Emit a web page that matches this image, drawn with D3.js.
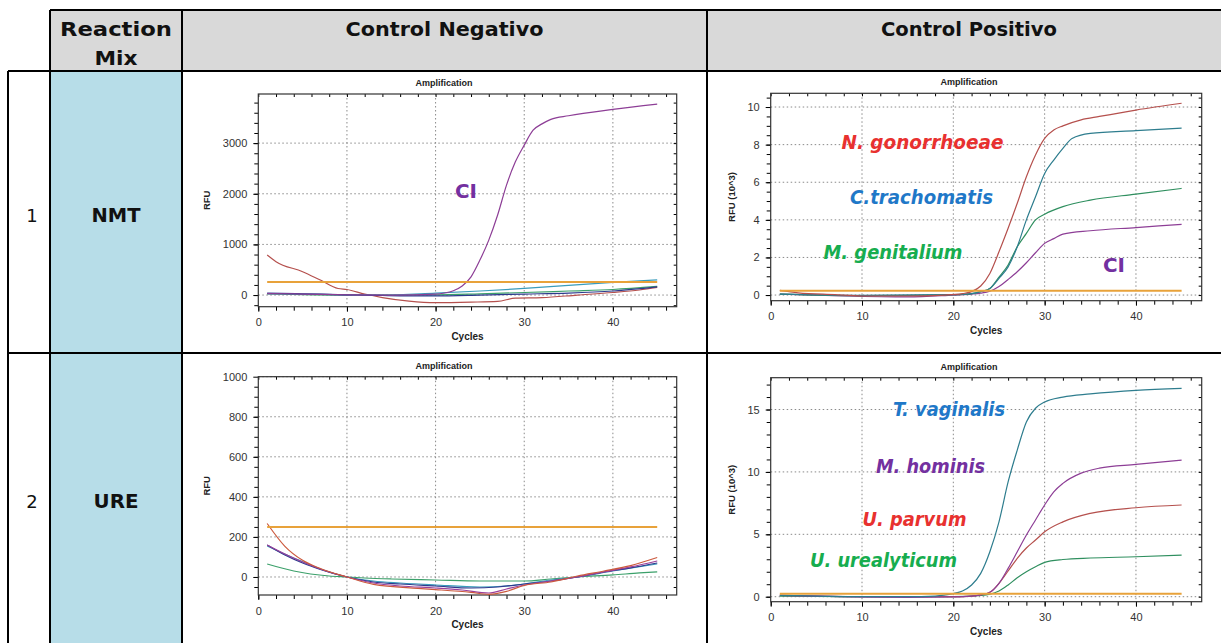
<!DOCTYPE html>
<html>
<head>
<meta charset="utf-8">
<script src="https://cdn.jsdelivr.net/npm/d3@7"></script>
<style>
  body { margin: 0; background: #fff; }
  svg { display: block; }
  .big { font-family: "DejaVu Sans", sans-serif; font-weight: bold; fill: #111; }
  .tick text { font-family: "Liberation Sans", Arial, sans-serif; font-size: 11px; fill: #333; }
  .small { font-family: "Liberation Sans", Arial, sans-serif; font-weight: bold; fill: #222; }
  .species { font-family: "DejaVu Sans", sans-serif; font-weight: bold; font-style: italic; }
</style>
</head>
<body>
<div id="chart"></div>
<script>
// ---- data ----
const headerCols = ["Control Negativo", "Control Positivo"];
const rowNumbers = ["1", "2"];
const mixNames = ["NMT", "URE"];

const cycleTicks = [0, 10, 20, 30, 40];
const cycleDomain = [0, 47.2];
const thresholdRange = [1, 45];

// row 1, negative control (RFU)
const nmtNegYTicks = [0, 1000, 2000, 3000];
const nmtNegThreshold = 256;
const nmtNegCI = [[1,30],[5,20],[10,5],[15,0],[20,20],[21,40],[22,85],[23,180],[24,360],[25,690],[26,1085],[27,1580],[28,2170],[29,2630],[30,2960],[31,3255],[32,3380],[33,3470],[35,3540],[40,3665],[45,3770]];
const nmtNegRed = [[1,790],[2,660],[5,460],[7,296],[9,130],[10,110],[12,20],[14,-50],[17,-120],[20,-150],[24,-140],[27,-125],[29,-60],[32,-50],[36,0],[40,50],[43,100],[45,150]];
const nmtNegNavy = [[1,40],[5,25],[10,5],[13,-5],[16,-15],[20,-15],[25,0],[30,20],[35,40],[40,80],[45,160]];
const nmtNegTeal = [[1,30],[5,20],[10,5],[14,0],[20,40],[25,80],[30,130],[35,190],[40,250],[45,300]];
const nmtNegGreen = [[1,25],[10,0],[20,5],[25,25],[30,50],[35,80],[40,110],[45,170]];

// row 1, positive control (RFU x 10^3)
const nmtPosYTicks = [0, 2, 4, 6, 8, 10];
const nmtPosThreshold = 0.23;
const nmtPosNG = [[1,0.25],[3,0.12],[7,0.02],[10,-0.05],[15,-0.05],[19,0],[21,0.08],[22,0.18],[23,0.48],[24,1.15],[25,2.3],[26,3.55],[27,4.88],[28,6.29],[29,7.45],[30,8.33],[31,8.78],[32,9.0],[34,9.32],[36,9.5],[40,9.84],[45,10.2]];
const nmtPosCT = [[1,0.05],[10,-0.02],[20,0.02],[22,0.08],[23,0.18],[24,0.35],[25,0.89],[26,1.5],[27,2.57],[28,4.0],[29,5.23],[30,6.47],[31,7.18],[32,7.8],[33,8.33],[35,8.6],[40,8.74],[45,8.88]];
const nmtPosMG = [[1,0.05],[10,-0.03],[20,0.02],[22,0.08],[23,0.18],[24,0.35],[25,0.95],[26,1.6],[27,2.57],[28,3.28],[29,4.0],[30,4.3],[32,4.7],[35,5.05],[40,5.37],[45,5.67]];
const nmtPosCI = [[1,0.05],[8,-0.05],[15,-0.1],[20,0],[22,0.05],[23,0.1],[24,0.2],[25,0.45],[26,0.83],[27,1.24],[28,1.72],[29,2.25],[30,2.75],[31,3.0],[32,3.24],[35,3.42],[40,3.59],[45,3.76]];

// row 2, negative control (RFU)
const ureNegYTicks = [0, 200, 400, 600, 800, 1000];
const ureNegThreshold = 250;
const ureNegRed = [[1,267],[3,153],[5,83],[7,42],[10,0],[13,-37],[18,-57],[20,-63],[24,-77],[26,-87],[28,-72],[30,-42],[33,-25],[36,5],[39,30],[42,57],[45,97]];
const ureNegPurple = [[1,160],[3,115],[5,75],[7,40],[10,0],[13,-30],[16,-45],[20,-55],[23,-65],[26,-80],[28,-60],[30,-40],[33,-20],[36,0],[39,25],[42,50],[45,80]];
const ureNegNavy = [[1,160],[3,110],[5,70],[7,38],[10,0],[13,-25],[16,-35],[20,-45],[24,-55],[27,-50],[30,-35],[33,-20],[36,0],[39,25],[42,45],[45,70]];
const ureNegTeal = [[1,155],[4,95],[7,40],[10,0],[13,-20],[16,-30],[20,-40],[25,-50],[28,-45],[30,-35],[33,-15],[36,0],[40,30],[45,65]];
const ureNegGreen = [[1,65],[4,30],[8,5],[10,0],[12,-5],[15,-10],[20,-15],[25,-20],[30,-20],[33,-10],[36,0],[40,10],[43,20],[45,25]];

// row 2, positive control (RFU x 10^3)
const urePosYTicks = [0, 5, 10, 15];
const urePosThreshold = 0.24;
const urePosTV = [[1,0.1],[5,0.05],[10,0],[15,0],[18,0.05],[19,0.12],[20,0.25],[21,0.46],[22,0.94],[23,1.87],[24,3.6],[25,6.0],[26,9.2],[27,11.75],[28,14.0],[29,15.1],[30,15.6],[32,16.0],[35,16.25],[40,16.54],[45,16.7]];
const urePosMH = [[1,0.1],[8,0],[15,-0.05],[20,-0.02],[22,0.05],[23,0.15],[24,0.35],[25,1.07],[26,2.27],[27,3.6],[28,4.94],[29,6.15],[30,7.35],[31,8.4],[32,9.08],[34,9.9],[36,10.3],[40,10.6],[45,10.95]];
const urePosUP = [[1,0.1],[10,0],[20,0],[22,0.05],[23,0.15],[24,0.35],[25,1.07],[26,2.06],[27,3.08],[28,3.9],[29,4.54],[30,5.2],[32,6.0],[35,6.68],[40,7.13],[45,7.35]];
const urePosUU = [[1,0.05],[10,0],[20,0],[23,0.1],[24,0.2],[25,0.46],[26,0.94],[27,1.52],[28,2.0],[29,2.4],[30,2.75],[32,2.98],[35,3.1],[40,3.2],[45,3.34]];

// ---- drawing ----
const W = 1221, H = 643;
const svg = d3.select("#chart").append("svg").attr("width", W).attr("height", H);

// table cells
svg.append("rect").attr("x", 50).attr("y", 10).attr("width", W - 50).attr("height", 61).attr("fill", "#d9d9d9");
svg.append("rect").attr("x", 50).attr("y", 71).attr("width", 132).attr("height", H - 71).attr("fill", "#b7dde8");

// header text
function bigText(x, y, txt, size, len) {
    const t = svg.append("text").attr("class", "big").attr("x", x).attr("y", y)
        .attr("text-anchor", "middle").style("font-size", size + "px").text(txt);
    if (len) t.attr("textLength", len).attr("lengthAdjust", "spacingAndGlyphs");
    return t;
}
bigText(116, 36, "Reaction", 20, 112);
bigText(116, 65, "Mix", 20, 43);
bigText(444.5, 36, headerCols[0], 20, 198);
bigText(969, 36, headerCols[1], 20, 176);

const rowMid = [222, 508];
rowNumbers.forEach((n, i) => {
    svg.append("text").attr("x", 32).attr("y", rowMid[i]).attr("text-anchor", "middle")
        .style("font-family", "'DejaVu Sans', sans-serif").style("font-size", "18px").style("fill", "#111").text(n);
    bigText(116, rowMid[i], mixNames[i], 19, i === 0 ? 49 : 45);
});

// panels
function drawPanel(p) {
    const g = svg.append("g");
    const x = d3.scaleLinear().domain(cycleDomain).range([p.left, p.right]);
    const y = d3.scaleLinear().domain(p.yDomain).range([p.bottom, p.top]);

    // dotted grid
    g.selectAll(".gx").data(cycleTicks.filter(d => d > 0)).join("line")
        .attr("x1", d => x(d)).attr("x2", d => x(d)).attr("y1", p.top).attr("y2", p.bottom)
        .attr("stroke", "#8a8a8a").attr("stroke-dasharray", "1.5,2.5");
    g.selectAll(".gy").data(p.yTicks).join("line")
        .attr("x1", p.left).attr("x2", p.right).attr("y1", d => y(d)).attr("y2", d => y(d))
        .attr("stroke", "#8a8a8a").attr("stroke-dasharray", "1.5,2.5");

    // minor ticks on all four sides
    const xMinor = d3.range(0, cycleDomain[1], 2);
    const yMinor = d3.range(Math.ceil(p.yDomain[0] / p.minor) * p.minor, p.yDomain[1], p.minor);
    g.append("g").attr("transform", `translate(0,${p.bottom})`)
        .call(d3.axisBottom(x).tickValues(xMinor).tickSize(4).tickFormat(""))
        .call(a => a.select(".domain").remove());
    g.append("g").attr("transform", `translate(0,${p.top})`)
        .call(d3.axisBottom(x).tickValues(xMinor).tickSize(3).tickFormat(""))
        .call(a => a.select(".domain").remove());
    g.append("g").attr("transform", `translate(${p.left},0)`)
        .call(d3.axisLeft(y).tickValues(yMinor).tickSize(4).tickFormat(""))
        .call(a => a.select(".domain").remove());
    g.append("g").attr("transform", `translate(${p.right},0)`)
        .call(d3.axisLeft(y).tickValues(yMinor).tickSize(3).tickFormat(""))
        .call(a => a.select(".domain").remove());

    // major axes with labels
    g.append("g").attr("transform", `translate(0,${p.bottom})`)
        .call(d3.axisBottom(x).tickValues(cycleTicks).tickSize(5).tickPadding(7).tickFormat(d3.format("d")))
        .call(a => a.select(".domain").remove());
    g.append("g").attr("transform", `translate(${p.left},0)`)
        .call(d3.axisLeft(y).tickValues(p.yTicks).tickSize(5).tickPadding(6).tickFormat(d3.format("d")))
        .call(a => a.select(".domain").remove());

    // frame
    g.append("rect").attr("x", p.left).attr("y", p.top)
        .attr("width", p.right - p.left).attr("height", p.bottom - p.top)
        .attr("fill", "none").attr("stroke", "#333").attr("stroke-width", 1.2);

    // curves
    const clipId = "clip" + p.id;
    g.append("clipPath").attr("id", clipId).append("rect")
        .attr("x", p.left).attr("y", p.top).attr("width", p.right - p.left).attr("height", p.bottom - p.top);
    const line = d3.line().x(d => x(d[0])).y(d => y(d[1])).curve(d3.curveMonotoneX);
    g.append("g").attr("clip-path", `url(#${clipId})`)
        .selectAll("path").data(p.series).join("path")
        .attr("d", s => line(s.pts)).attr("fill", "none")
        .attr("stroke", s => s.color).attr("stroke-width", 1.2);

    // threshold
    g.append("line").attr("x1", x(thresholdRange[0])).attr("x2", x(thresholdRange[1]))
        .attr("y1", y(p.threshold)).attr("y2", y(p.threshold))
        .attr("stroke", "#e8a23a").attr("stroke-width", 2);

    // titles
    g.append("text").attr("class", "small").attr("x", p.titleX).attr("y", p.top - 8)
        .attr("text-anchor", "middle").style("font-size", "9px").text("Amplification");
    g.append("text").attr("class", "small").attr("x", (p.left + p.right) / 2).attr("y", p.bottom + 33)
        .attr("text-anchor", "middle").style("font-size", "10px").text("Cycles");
    g.append("text").attr("class", "small")
        .attr("transform", `translate(${p.left - p.yLabelOff},${(p.top + p.bottom) / 2}) rotate(-90)`)
        .attr("text-anchor", "middle").style("font-size", "9.5px").text(p.yLabel);

    // species labels
    p.labels.forEach(l => {
        const t = g.append("text").attr("class", "species").attr("x", l.x).attr("y", l.y)
            .attr("text-anchor", "middle").style("font-size", "19px")
            .style("font-style", l.upright ? "normal" : "italic")
            .style("fill", l.color).text(l.text);
        if (l.len) t.attr("textLength", l.len).attr("lengthAdjust", "spacingAndGlyphs");
    });
}

const cRed = "#e8312f", cBlue = "#1f78c8", cGreen = "#17ad4f", cPurple = "#7330a0";

drawPanel({
    id: 1, left: 258.3, right: 676.7, top: 94, bottom: 306.7, titleX: 444,
    yDomain: [-230, 3970], yTicks: nmtNegYTicks, minor: 200, threshold: nmtNegThreshold,
    yLabel: "RFU", yLabelOff: 48,
    series: [
        { pts: nmtNegRed, color: "#b5504d" },
        { pts: nmtNegGreen, color: "#3ba06a" },
        { pts: nmtNegTeal, color: "#3a9cbc" },
        { pts: nmtNegNavy, color: "#2d3a8e" },
        { pts: nmtNegCI, color: "#8d3e96" }
    ],
    labels: [{ text: "CI", x: 466, y: 198, color: cPurple, upright: true, len: 22 }]
});

drawPanel({
    id: 2, left: 770.7, right: 1201.7, top: 93.3, bottom: 300.7, titleX: 969,
    yDomain: [-0.3, 10.73], yTicks: nmtPosYTicks, minor: 0.5, threshold: nmtPosThreshold,
    yLabel: "RFU (10^3)", yLabelOff: 36,
    series: [
        { pts: nmtPosCI, color: "#8d3e96" },
        { pts: nmtPosMG, color: "#2f8f5f" },
        { pts: nmtPosCT, color: "#2e7d8e" },
        { pts: nmtPosNG, color: "#b5504d" }
    ],
    labels: [
        { text: "N. gonorrhoeae", x: 922.5, y: 149, color: cRed, len: 162 },
        { text: "C.trachomatis", x: 921.5, y: 204, color: cBlue, len: 143 },
        { text: "M. genitalium", x: 893, y: 259, color: cGreen, len: 139 },
        { text: "CI", x: 1114, y: 272, color: cPurple, upright: true, len: 22 }
    ]
});

drawPanel({
    id: 3, left: 258.3, right: 676.7, top: 376.7, bottom: 595, titleX: 444,
    yDomain: [-90, 1000], yTicks: ureNegYTicks, minor: 50, threshold: ureNegThreshold,
    yLabel: "RFU", yLabelOff: 48,
    series: [
        { pts: ureNegGreen, color: "#3ba06a" },
        { pts: ureNegTeal, color: "#3a9cbc" },
        { pts: ureNegNavy, color: "#2d3a8e" },
        { pts: ureNegPurple, color: "#9b3f9a" },
        { pts: ureNegRed, color: "#cc5a3e" }
    ],
    labels: []
});

drawPanel({
    id: 4, left: 770.7, right: 1201.7, top: 377.7, bottom: 601.7, titleX: 969,
    yDomain: [-0.4, 17.55], yTicks: urePosYTicks, minor: 1, threshold: urePosThreshold,
    yLabel: "RFU (10^3)", yLabelOff: 36,
    series: [
        { pts: urePosUU, color: "#2f8f5f" },
        { pts: urePosUP, color: "#b5504d" },
        { pts: urePosMH, color: "#8d3e96" },
        { pts: urePosTV, color: "#2e7d8e" }
    ],
    labels: [
        { text: "T. vaginalis", x: 949, y: 416, color: cBlue, len: 112 },
        { text: "M. hominis", x: 930.5, y: 473, color: cPurple, len: 109 },
        { text: "U. parvum", x: 914.5, y: 526, color: cRed, len: 104 },
        { text: "U. urealyticum", x: 883.5, y: 567, color: cGreen, len: 147 }
    ]
});

// table rules
const rules = [
    [50, 10, W, 10], [8, 71, W, 71], [8, 353, W, 353],
    [8, 71, 8, H], [50, 10, 50, H], [182, 10, 182, H], [707, 10, 707, H]
];
svg.selectAll(".rule").data(rules).join("line")
    .attr("x1", d => d[0]).attr("y1", d => d[1]).attr("x2", d => d[2]).attr("y2", d => d[3])
    .attr("stroke", "#000").attr("stroke-width", 2);
</script>
</body>
</html>
